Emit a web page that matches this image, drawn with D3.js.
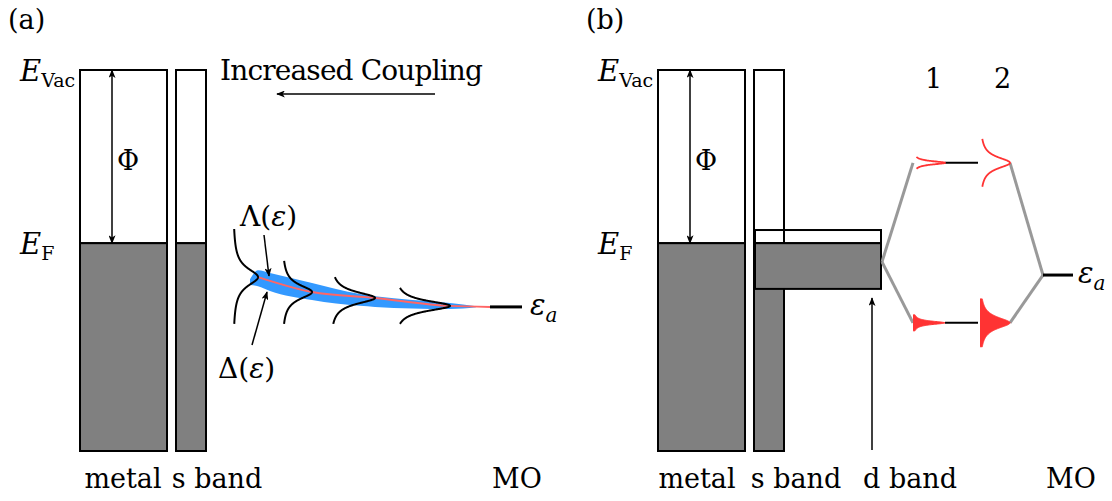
<!DOCTYPE html>
<html>
<head>
<meta charset="utf-8">
<script src="https://cdn.jsdelivr.net/npm/d3@7"></script>
<style>
  body { margin: 0; background: #fff; }
</style>
</head>
<body>
<svg id="chart"></svg>
<script>
const width = 1112
const height = 501

// energies in eV, relative to the Fermi level
const levelNames = ['Vac', 'F']
const levelEnergy = [5, 0]
const bandBottom = -6
const epsA = [-1.84, -0.92] // adsorbate level, panel (a) and (b)

const panelNames = ['(a)', '(b)']
const panelShift = [0, 578]
const bandNames = ['metal', 's band', 'd band', 'MO']
const bandLeft = [80, 176]
const bandRight = [167, 206]
const dBandX = [755, 881]
const dBandEnergy = [0.38, -1.32]

// panel (a): chemisorption functions, weak -> strong coupling
const couplingBase = [233, 282, 330, 394]
const couplingPeak = [258, 312, 375, 450]
const couplingCenter = [-0.98, -1.41, -1.58, -1.81]
const couplingWidth = [0.31, 0.25, 0.21, 0.18]
const couplingTop = [0.41, -0.51, -0.98, -1.29]
const couplingBottom = [-2.33, -2.33, -2.33, -2.33]

// Δ(ε) band and Λ(ε) line
const deltaX = [250, 258, 270, 312, 360, 375, 450, 476]
const deltaTop = [-1.04, -0.78, -0.86, -1.15, -1.47, -1.53, -1.73, -1.82]
const deltaBottom = [-1.21, -1.24, -1.38, -1.64, -1.81, -1.84, -1.9, -1.85]
const lambdaX = [258, 312, 375, 450, 490]
const lambdaE = [-0.98, -1.41, -1.58, -1.81, -1.84]

// panel (b): antibonding / bonding states for case 1 and 2
const moCase = ['1', '2']
const moEnergy = [2.32, -2.3]
const moBase = [913, 980]
const moPeak = [945, 1010]
const moWidth = [0.06, 0.2]
const moExtent = [[0.17, 0.69], [0.23, 0.69]]
const dBandCenter = -0.54

const font = 'DejaVu Serif'

const svg = d3.select('#chart')
  .attr('width', width)
  .attr('height', height)
  .style('font-family', font)

const x = d3.scaleLinear().domain([0, width]).range([0, width])
const y = d3.scaleLinear().domain([bandBottom, levelEnergy[0]]).range([451, 70])

const grey = '#808080'

const defs = svg.append('defs')
defs.append('marker')
  .attr('id', 'head')
  .attr('viewBox', '0 0 10 8')
  .attr('refX', 9)
  .attr('refY', 4)
  .attr('markerWidth', 9)
  .attr('markerHeight', 7)
  .attr('markerUnits', 'userSpaceOnUse')
  .attr('orient', 'auto-start-reverse')
  .append('path')
  .attr('d', 'M0,0 L10,4 L0,8 L2.5,4 Z')
  .attr('fill', '#000')

const line = d3.line().x(d => x(d[0])).y(d => y(d[1]))

const arrow = (x1, e1, x2, e2, both) => {
  const l = svg.append('line')
    .attr('x1', x(x1)).attr('y1', y(e1))
    .attr('x2', x(x2)).attr('y2', y(e2))
    .attr('stroke', '#000')
    .attr('stroke-width', 1.5)
    .attr('marker-end', 'url(#head)')
  if (both) l.attr('marker-start', 'url(#head)')
}

const lorentz = (base, peak, e0, w, eTop, eBot) =>
  d3.range(eBot, eTop + 0.0001, 0.004).map(e => [base + (peak - base) * w * w / ((e - e0) * (e - e0) + w * w), e])

const text = (xx, yy, str, size, italic, anchor) =>
  svg.append('text')
    .attr('x', xx).attr('y', yy)
    .style('font-family', font)
    .attr('font-size', size)
    .attr('font-style', italic ? 'italic' : 'normal')
    .attr('text-anchor', anchor || 'start')
    .attr('fill', '#000')
    .text(str)

// ---- bands, both panels ----
panelShift.forEach((s, p) => {
  text(x(8 + s), 29, panelNames[p], 27)

  bandLeft.forEach((l, i) => {
    svg.append('rect')
      .attr('x', x(l + s)).attr('y', y(levelEnergy[0]))
      .attr('width', x(bandRight[i]) - x(l)).attr('height', y(levelEnergy[1]) - y(levelEnergy[0]))
      .attr('fill', '#fff').attr('stroke', '#000').attr('stroke-width', 2)
    svg.append('rect')
      .attr('x', x(l + s)).attr('y', y(levelEnergy[1]))
      .attr('width', x(bandRight[i]) - x(l)).attr('height', y(bandBottom) - y(levelEnergy[1]))
      .attr('fill', grey).attr('stroke', '#000').attr('stroke-width', 2)
  })

  levelNames.forEach((n, i) => {
    const t = text(x(20 + s), y(levelEnergy[i]) + 11, 'E', 29, true)
    t.append('tspan').attr('font-style', 'normal').attr('font-size', 19).attr('dy', 6).text(n)
  })

  arrow(112 + s, levelEnergy[1], 112 + s, levelEnergy[0], true)
  text(x(117 + s), 170, 'Φ', 27)

  const t = text(x(522 + 8 + s * 0.948), y(epsA[p]) + 8, 'ε', 29, true)
  t.append('tspan').attr('font-size', 20).attr('dy', 7).text('a')
})

// ---- panel (a) ----
text(x(220), 80, 'Increased Coupling', 28).attr('textLength', 263)
arrow(435, y.invert(94), 277, y.invert(94))

const area = d3.area()
  .x((d, i) => x(deltaX[i]))
  .y0((d, i) => y(deltaBottom[i]))
  .y1((d, i) => y(deltaTop[i]))
  .curve(d3.curveMonotoneX)
svg.append('path')
  .attr('d', area(deltaX))
  .attr('fill', '#3399ff')

svg.append('path')
  .attr('d', line.curve(d3.curveMonotoneX)(lambdaX.map((v, i) => [v, lambdaE[i]])))
  .attr('fill', 'none')
  .attr('stroke', '#ff6666')
  .attr('stroke-width', 2)
line.curve(d3.curveLinear)

couplingBase.forEach((b, i) => {
  svg.append('path')
    .attr('d', line(lorentz(b, couplingPeak[i], couplingCenter[i], couplingWidth[i], couplingTop[i], couplingBottom[i])))
    .attr('fill', 'none')
    .attr('stroke', '#000')
    .attr('stroke-width', 2)
})

svg.append('line')
  .attr('x1', x(490)).attr('x2', x(522))
  .attr('y1', y(epsA[0])).attr('y2', y(epsA[0]))
  .attr('stroke', '#000').attr('stroke-width', 3)

{
  const t = text(x(240), 226, 'Λ(', 28)
  t.append('tspan').attr('font-style', 'italic').text('ε')
  t.append('tspan').text(')')
  const u = text(x(218), 378, 'Δ(', 28)
  u.append('tspan').attr('font-style', 'italic').text('ε')
  u.append('tspan').text(')')
}
arrow(264, y.invert(235), 269, y.invert(276))
arrow(252, y.invert(345), 267, y.invert(292))

// ---- panel (b) ----
svg.append('rect')
  .attr('x', x(dBandX[0])).attr('y', y(dBandEnergy[0]))
  .attr('width', x(dBandX[1]) - x(dBandX[0])).attr('height', y(0) - y(dBandEnergy[0]))
  .attr('fill', 'none').attr('stroke', '#000').attr('stroke-width', 2)
svg.append('rect')
  .attr('x', x(dBandX[0])).attr('y', y(0))
  .attr('width', x(dBandX[1]) - x(dBandX[0])).attr('height', y(dBandEnergy[1]) - y(0))
  .attr('fill', grey).attr('stroke', '#000').attr('stroke-width', 2)

arrow(872, y.invert(450), 872, y.invert(298))

const grey2 = '#999'
const gl = (pts) => svg.append('path').attr('d', line(pts))
  .attr('fill', 'none').attr('stroke', grey2).attr('stroke-width', 3)
moEnergy.forEach(e => {
  gl([[dBandX[1] + 1, dBandCenter], [moBase[0], e]])
  gl([[moPeak[1], e], [1043, epsA[1]]])
})

moEnergy.forEach((e, k) => {
  svg.append('line')
    .attr('x1', x(moPeak[0])).attr('x2', x(moBase[1] - 2))
    .attr('y1', y(e)).attr('y2', y(e))
    .attr('stroke', '#000').attr('stroke-width', 2)
  moBase.forEach((b, c) => {
    const pts = lorentz(b, moPeak[c], e, moWidth[c], e + moExtent[k][c], e - moExtent[k][c])
    if (k === 0) {
      svg.append('path').attr('d', line(pts))
        .attr('fill', 'none').attr('stroke', '#ff3333').attr('stroke-width', 1.8)
    } else {
      svg.append('path').attr('d', line([[b, pts[0][1]], ...pts, [b, pts[pts.length - 1][1]]]))
        .attr('fill', '#ff3333').attr('stroke', '#ff3333').attr('stroke-width', 1)
    }
  })
})

svg.append('line')
  .attr('x1', x(1043)).attr('x2', x(1073))
  .attr('y1', y(epsA[1])).attr('y2', y(epsA[1]))
  .attr('stroke', '#000').attr('stroke-width', 3)

moCase.forEach((c, i) => text(x(moBase[i] + 12 + i * 2), 88, c, 27))

// ---- bottom labels ----
const labelX = [[123, 217], [697, 796, 910, 1071]]
text(labelX[0][0], 488, bandNames[0], 27, false, 'middle')
text(labelX[0][1], 488, bandNames[1], 27, false, 'middle')
text(517, 488, bandNames[3], 27, false, 'middle')
labelX[1].forEach((lx, i) => text(lx, 488, bandNames[i], 27, false, 'middle'))
</script>
</body>
</html>
